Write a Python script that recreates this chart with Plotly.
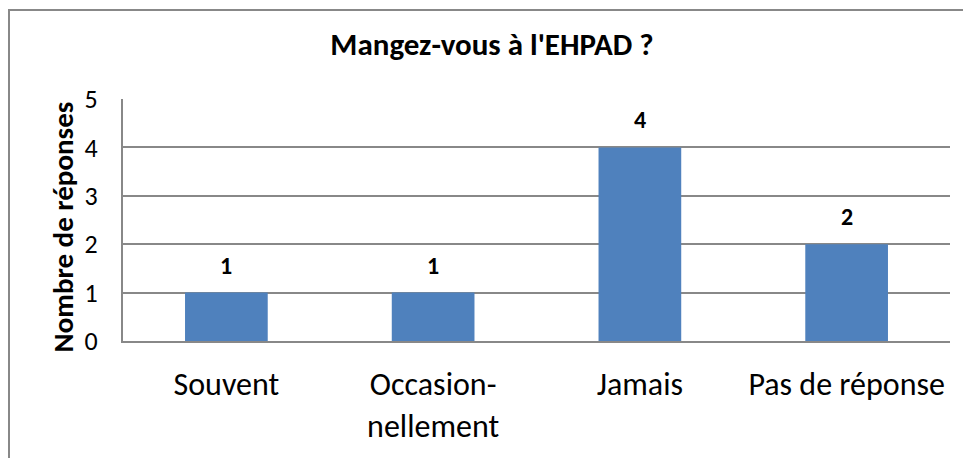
import plotly.graph_objects as go

categories = ["Souvent", "Occasion-<br>nellement", "Jamais", "Pas de réponse"]
values = [1, 1, 4, 2]
y_ticks = [0, 1, 2, 3, 4, 5]

FONT = "Liberation Sans Narrow, Carlito, Open Sans, sans-serif"
# page has an 8px body margin, so the figure itself is 963x450
W, H = 963, 450
L, R, T, B = 115, 21, 91, 114
pw, ph = W - L - R, H - T - B

fig = go.Figure()
fig.add_trace(go.Bar(
    x=categories, y=values,
    marker=dict(color="#4F81BD", line=dict(width=0)),
    width=0.4,
))

for c, v in zip(categories, values):
    fig.add_annotation(x=c, y=v, text=f"<b>{v}</b>", showarrow=False,
                       yanchor="bottom", yshift=11,
                       font=dict(family=FONT, size=24, color="black"))

# y-axis title
fig.add_annotation(text="<b>Nombre de réponses</b>", xref="paper", yref="paper",
                   x=0, y=(H - B - 221) / ph, xanchor="center", yanchor="middle",
                   xshift=-60, textangle=-90, showarrow=False,
                   font=dict(family=FONT, size=29, color="black"))

# outer chart border
fig.add_shape(type="rect", xref="paper", yref="paper",
              x0=(1 - L) / pw, x1=(W + 10 - L) / pw,
              y0=-(H + 10 - (H - B)) / ph, y1=((H - B) - 1) / ph,
              line=dict(color="#888888", width=2), fillcolor="rgba(0,0,0,0)",
              layer="below")

fig.update_layout(
    width=W, height=H,
    margin=dict(l=L, r=R, t=T, b=B, pad=0),
    paper_bgcolor="white", plot_bgcolor="white",
    showlegend=False,
    title=dict(text="<b>Mangez-vous à l'EHPAD ?</b>", x=484 / W, xanchor="center",
               xref="container", y=1 - 36 / H, yanchor="middle", yref="container",
               font=dict(family=FONT, size=31, color="black")),
    font=dict(family=FONT, color="black"),
)
fig.update_xaxes(
    showgrid=False, showline=True, linecolor="#888888", linewidth=2,
    ticks="", tickfont=dict(family=FONT, size=32, color="black"),
    ticklabelstandoff=14,
)
fig.update_yaxes(
    range=[0, 5], tickvals=y_ticks, showgrid=True, gridcolor="#888888", gridwidth=2,
    showline=True, linecolor="#888888", linewidth=2, zeroline=False,
    ticks="", tickfont=dict(family=FONT, size=26, color="black"),
    ticklabelstandoff=18,
)

fig.write_html("out.html")
